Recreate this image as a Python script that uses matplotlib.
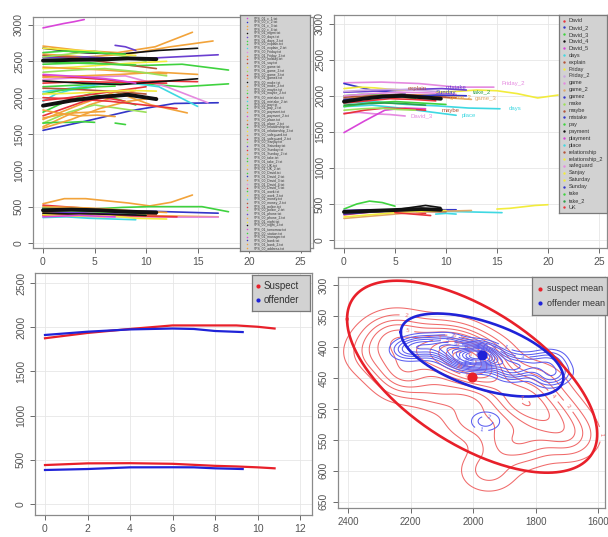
"""Formant tracks of suspect / offender recordings: four panel montage."""
import numpy as np
import matplotlib
matplotlib.use("Agg")
import matplotlib.pyplot as plt

plt.rcParams['font.family'] = ['Liberation Sans', 'DejaVu Sans']

W, H = 608, 537

# ---- colours used by the R-style palette
RED, BLUE, GREEN, BLACK = "#E8333A", "#3335C8", "#3FD23F", "#111111"
ORANGE, YELLOW, CYAN, MAGENTA = "#F2A33A", "#F2EC3C", "#3FD8E2", "#D946D9"
PINK, BROWN, LGREEN, PURPLE = "#E58AE0", "#B4553A", "#9BE05A", "#6A3FD0"
TAN, LAV, DGREEN = "#E0A868", "#C9A5E0", "#2E9E4A"

# ---- panel A: all recordings (start, end, values)
A_UPPER = [
    (0, 4, [2960, 2990, 3020, 3045, 3075]),
    (0, 17, [1550, 1680, 1820, 1920, 1930]),
    (0, 14.5, [2710, 2650, 2620, 2700, 2900]),
    (0, 16.5, [2600, 2560, 2600, 2700, 2780]),
    (0, 15, [2680, 2620, 2600, 2650, 2680]),
    (0, 17, [2550, 2560, 2530, 2560, 2590]),
    (0, 18, [2460, 2480, 2440, 2460, 2380]),
    (0, 18, [2150, 2180, 2200, 2150, 2190]),
    (0, 15, [2080, 2150, 2220, 2150, 1880]),
    (0, 16, [2250, 2280, 2300, 2150, 1930]),
    (0, 14, [1700, 1900, 2080, 1900, 1790]),
    (0, 12, [2300, 2280, 2250, 2200, 2200]),
    (0, 11, [2580, 2560, 2500, 2450, 2400]),
    (0, 12, [2400, 2420, 2450, 2480, 2500]),
    (0, 10, [2560, 2600, 2640, 2580, 2500]),
    (0, 15, [2200, 2220, 2210, 2230, 2220]),
    (0, 15, [2280, 2300, 2320, 2350, 2320]),
    (0, 15, [2230, 2200, 2180, 2220, 2260]),
    (0, 9, [1600, 1750, 1900, 2000, 2100]),
    (0, 10, [1650, 1800, 1900, 1850, 1800]),
    (0, 9, [1800, 1950, 2050, 2000, 1900]),
    (0, 8, [1750, 1850, 1950, 2000, 1950]),
    (0, 5, [1950, 2050, 2100, 2120, 2150]),
    (0, 5, [1650, 1660, 1660, 1670, 1660]),
    (7, 8, [1650, 1640, 1630]),
    (0, 11, [1580, 1700, 1850, 1950, 2000]),
    (0, 9, [2320, 2300, 2280, 2250, 2200]),
    (0, 12, [2420, 2400, 2380, 2350, 2330]),
    (0, 10, [2130, 2120, 2100, 2080, 2050]),
    (0, 7, [2050, 2100, 2130, 2150, 2160]),
    (0, 9, [2680, 2660, 2640, 2600, 2580]),
    (0, 7, [1830, 1780, 1750, 1760, 1740]),
    (0, 10, [1960, 2000, 2050, 2100, 2150]),
    (0, 12, [2350, 2380, 2400, 2360, 2300]),
    (7, 9, [2720, 2700, 2650]),
    (0, 13, [2000, 1980, 1950, 1900, 1850]),
    (0, 6, [1720, 1760, 1790, 1800, 1810]),
    (0, 8, [2620, 2640, 2630, 2610, 2600]),
    (0, 9, [2500, 2480, 2470, 2460, 2450]),
    (0, 11, [2050, 2060, 2080, 2100, 2090]),
]
A_UPPER_COLORS = [
    MAGENTA, BLUE, ORANGE, ORANGE, BLACK, PURPLE, GREEN, GREEN, CYAN, PINK,
    ORANGE, RED, BROWN, YELLOW, LGREEN, RED, ORANGE, BLACK, ORANGE, LGREEN,
    GREEN, RED, CYAN, GREEN, GREEN, ORANGE, MAGENTA, ORANGE, BROWN, GREEN,
    YELLOW, ORANGE, RED, LGREEN, PURPLE, RED, ORANGE, GREEN, GREEN, YELLOW,
]
A_LOWER = [
    (0, 14.5, [540, 610, 610, 580, 550, 510, 560, 660]),
    (0, 18, [470, 480, 470, 490, 500, 500, 500, 430]),
    (0, 17, [480, 470, 460, 450, 440, 430, 420, 410]),
    (0, 17, [400, 390, 380, 370, 360]),
    (0, 17, [370, 360, 360, 355, 355]),
    (0, 13, [380, 400, 380, 370, 360]),
    (0, 10, [480, 470, 450, 420, 380]),
    (0, 12, [420, 400, 380, 340, 330]),
    (0, 9, [350, 360, 340, 330, 320]),
    (0, 11, [430, 420, 410, 400, 390]),
    (0, 8, [520, 500, 480, 450, 420]),
    (0, 10, [460, 450, 430, 410, 400]),
    (0, 9, [400, 420, 410, 400, 390]),
    (0, 12, [500, 490, 470, 440, 420]),
    (0, 6, [390, 380, 370, 370, 360]),
    (0, 10, [410, 400, 400, 390, 380]),
    (0, 7, [360, 370, 380, 370, 360]),
    (0, 11, [440, 445, 430, 420, 410]),
]
A_LOWER_COLORS = [
    ORANGE, GREEN, BLUE, ORANGE, PINK, RED, GREEN, YELLOW, CYAN, BROWN,
    RED, LGREEN, PURPLE, ORANGE, YELLOW, BLACK, MAGENTA, GREEN,
]
A_MEAN = [
    (0, 11, [2510, 2520, 2525, 2540, 2530]),
    (0, 11, [1890, 1960, 2010, 2040, 1980]),
    (0, 11, [450, 460, 450, 430, 420]),
]
A_FILE_WORDS = [
    "c_1", "c_2", "c_3", "c_4", "mgmt", "days", "days_2", "explain", "explain_2",
    "Friday", "Friday_2", "holiday", "say", "game", "game_2", "game_3", "gamez",
    "make", "make_2", "maybe", "maybe_2", "mistake", "mistake_2", "pay", "pay_2",
    "payment", "payment_2", "place", "place_2", "relationship", "relationship_2",
    "safeguard", "safeguard_2", "Sanjay", "Saturday", "Sunday", "Sunday_2",
    "take", "take_2", "UK", "UK_2", "David", "David_2", "David_3", "David_4",
    "David_5", "work", "work_2", "money", "money_2", "police", "police_2",
    "phone", "phone_2", "night", "night_2", "tomorrow", "station", "manager",
    "bank", "bank_2", "address",
]

# ---- panel B: one speaker, labelled words
B_UPPER = [
    (0, 14.7, [2180, 2190, 2170, 2120, 2120]),
    (0, 6, [2170, 2120, 2070, 2050, 2040]),
    (9, 21, [2050, 2060, 2080, 2070, 2030, 1970, 2010]),
    (0, 15.3, [1900, 1920, 1880, 1860, 1830, 1820]),
    (0, 11, [1850, 1870, 1830, 1780, 1730]),
    (0, 12.5, [1960, 1990, 2000, 1980, 1950]),
    (0, 6, [1760, 1770, 1750, 1740, 1720]),
    (0, 8, [1490, 1650, 1800, 1830, 1820]),
    (0, 8, [1750, 1800, 1830, 1820, 1800]),
    (0, 10, [1850, 1900, 1920, 1900, 1880]),
    (0, 7, [2000, 2020, 2010, 1990, 1960]),
    (0, 12, [2050, 2060, 2080, 2090, 2100, 2080]),
    (0, 6, [2100, 2120, 2110, 2090, 2080]),
    (0, 10, [1950, 1980, 2000, 2010, 2000]),
    (0, 11, [1980, 2000, 2020, 2000, 1970]),
    (0, 9, [1900, 1930, 1960, 1950, 1930]),
    (0, 7, [1800, 1820, 1830, 1810, 1800]),
    (0, 11, [2000, 2030, 2050, 2040, 2020]),
    (0, 12, [1950, 1970, 1990, 2010, 2000]),
    (0, 9, [2060, 2080, 2090, 2080, 2060]),
    (0, 8, [1870, 1890, 1900, 1890, 1870]),
]
B_UPPER_COLORS = [
    PINK, BLUE, YELLOW, CYAN, CYAN, TAN, PINK, MAGENTA, RED, GREEN, GREEN,
    PURPLE, YELLOW, ORANGE, BROWN, RED, LGREEN, PINK, BLUE, LAV, DGREEN,
]
B_LOWER = [
    (0, 5, [430, 500, 540, 520, 470]),
    (15, 20, [430, 440, 460, 480, 490]),
    (0, 15.5, [380, 400, 410, 400, 390, 380]),
    (5, 9.5, [420, 450, 480, 450]),
    (0, 8, [350, 380, 400, 390, 370]),
    (0, 11, [360, 390, 410, 420, 420]),
    (0, 12.5, [300, 330, 360, 390, 400, 410]),
    (0, 9, [410, 420, 420, 410, 400]),
    (3, 10, [400, 410, 400, 390]),
    (9, 11, [360, 370, 360]),
    (0, 7, [380, 390, 400, 395, 390]),
    (0, 10, [320, 350, 380, 400, 410]),
    (5, 8.5, [380, 360, 340]),
]
B_LOWER_COLORS = [
    GREEN, YELLOW, CYAN, BLACK, RED, BLUE, TAN, PURPLE, BROWN, CYAN, PINK,
    YELLOW, RED,
]
B_MEAN = [
    (0, 9.5, [1920, 1960, 1990, 2000, 1980, 1960]),
    (0, 9.5, [390, 400, 410, 420, 430, 420]),
]
B_LABELS = [
    ("Friday_2", PINK, 15.5, 2170), ("days", CYAN, 16.2, 1830),
    ("place", CYAN, 11.5, 1720), ("game_3", TAN, 12.8, 1960),
    ("David_3", PINK, 6.5, 1720), ("explain", BROWN, 6.3, 2100),
    ("mistake", PURPLE, 10.0, 2110), ("take_2", DGREEN, 12.6, 2050),
    ("game_2", ORANGE, 10.4, 1980), ("Sunday", BLUE, 9.0, 2040),
    ("maybe", BROWN, 9.6, 1790),
]
B_LEGEND = [
    "David", "David_2", "David_3", "David_4", "David_5", "days", "explain",
    "Friday", "Friday_2", "game", "game_2", "gamez", "make", "maybe",
    "mistake", "pay", "payment", "playment", "place", "relationship",
    "relationship_2", "safeguard", "Sanjay", "Saturday", "Sunday", "take",
    "take_2", "UK",
]
B_LEGEND_COLORS = [
    RED, BLUE, GREEN, BLACK, MAGENTA, CYAN, BROWN, YELLOW, LAV, PINK, TAN,
    BLUE, LGREEN, BROWN, BLUE, GREEN, BLACK, MAGENTA, CYAN, BROWN, YELLOW,
    PINK, YELLOW, YELLOW, BLUE, GREEN, DGREEN, RED,
]

# ---- panel C: mean tracks
C_X_SUSPECT = [0, 2, 4, 6, 8, 9, 10, 10.8]
C_SUSPECT_F2 = [1875, 1935, 1980, 2020, 2020, 2020, 2005, 1985]
C_SUSPECT_F1 = [441, 460, 462, 455, 432, 425, 415, 404]
C_X_OFFENDER = [0, 2, 4, 6, 7, 8, 9.3]
C_OFFENDER_F2 = [1912, 1949, 1975, 1985, 1980, 1957, 1945]
C_OFFENDER_F1 = [385, 396, 415, 416, 415, 404, 396]

# ---- panel D: F2 vs F1 of vowel tokens
D_SUSPECT_F2 = [2320, 2280, 2240, 2200, 2150, 2100, 2050, 2020, 2000, 1980,
                1960, 1950, 1900, 1880, 1850, 1820, 1780, 1750, 1710, 1690,
                1900, 1950, 1830, 2100, 2200, 1800, 2050, 2120, 2260, 2220,
                2000, 2060, 2010]
D_SUSPECT_F1 = [410, 385, 375, 395, 410, 420, 415, 425, 430, 440,
                420, 450, 460, 480, 500, 490, 520, 500, 530, 550,
                550, 600, 560, 470, 440, 460, 395, 385, 430, 455,
                515, 405, 418]
D_OFFENDER_F2 = [2220, 2180, 2150, 2100, 2060, 2040, 2010, 1990, 1975, 1960,
                 1940, 1900, 1850, 1800, 1750, 1730, 1760, 2020, 1980, 1960,
                 2080, 1880]
D_OFFENDER_F1 = [405, 400, 398, 402, 410, 415, 412, 408, 413, 416,
                 420, 425, 430, 428, 420, 440, 450, 420, 420, 520,
                 395, 440]
SUSPECT_MEAN = (2003, 448)
OFFENDER_MEAN = (1971, 413)
# ellipse half-spans (F2, F1) and correlation
SUSPECT_SPREAD = (400, 155, -0.6)
OFFENDER_SPREAD = (260, 67, -0.55)


def rect(left, top, right, bottom):
    return [left / W, 1 - bottom / H, (right - left) / W, (bottom - top) / H]


def style_axes(ax):
    for s in ax.spines.values():
        s.set_color("#8a8a8a")
        s.set_linewidth(0.9)
    ax.tick_params(colors="#6a6a6a", labelcolor="#555555", length=3.5,
                   width=0.7, labelsize=7.5, pad=3)
    ax.tick_params(axis="y", labelrotation=90)
    for lab in ax.get_yticklabels():
        lab.set_va("center")
    ax.grid(True, color="#e6e6e6", linewidth=0.6)
    ax.set_axisbelow(True)


def draw_tracks(ax, tracks, colors, lw=1.2):
    for (x0, x1, ys), c in zip(tracks, colors):
        ax.plot(np.linspace(x0, x1, len(ys)), ys, color=c, lw=lw,
                solid_capstyle="round")


def legend_box(fig, box, labels, colors, size, dot):
    lax = fig.add_axes(rect(*box))
    lax.set_facecolor("#d2d2d2")
    lax.set_xlim(0, 1)
    lax.set_ylim(len(labels) + 0.3, -0.3)
    lax.set_xticks([])
    lax.set_yticks([])
    for s in lax.spines.values():
        s.set_color("#7a7a7a")
        s.set_linewidth(0.9)
    for i, (lab, c) in enumerate(zip(labels, colors)):
        lax.scatter(0.1, i + 0.5, s=dot, color=c, lw=0)
        lax.text(0.2, i + 0.5, lab, fontsize=size, va="center", ha="left",
                 color="#333333")
    return lax


def kde(xs, ys, gx, gy, hx, hy):
    dens = np.zeros_like(gx)
    for x, y in zip(xs, ys):
        dens += np.exp(-0.5 * (((gx - x) / hx) ** 2 + ((gy - y) / hy) ** 2))
    return dens


def ellipse(center, spread):
    t = np.linspace(0, 2 * np.pi, 300)
    rx, ry, rho = spread
    x = center[0] + rx * np.cos(t)
    y = center[1] + ry * (rho * np.cos(t) + np.sqrt(1 - rho ** 2) * np.sin(t))
    return x, y


fig = plt.figure(figsize=(W / 100, H / 100), dpi=100)
fig.patch.set_facecolor("white")

# panel A
ax = fig.add_axes(rect(33, 17, 313, 248))
draw_tracks(ax, A_UPPER, A_UPPER_COLORS)
draw_tracks(ax, A_LOWER, A_LOWER_COLORS)
draw_tracks(ax, A_MEAN, [BLACK] * len(A_MEAN), lw=2.8)
ax.set_xlim(-0.97, 26.2)
ax.set_ylim(-69, 3110)
ax.set_xticks([0, 5, 10, 15, 20, 25])
ax.set_yticks(range(0, 3001, 500))
style_axes(ax)
a_labels = [f"VPS_{'00' if i % 2 else '01'}_{w}.txt" for i, w in enumerate(A_FILE_WORDS)]
a_colors = [(A_UPPER_COLORS + A_LOWER_COLORS)[i % 58] for i in range(len(a_labels))]
legend_box(fig, (240, 15, 310, 251), a_labels, a_colors, 2.4, 1.2)

# panel B
ax = fig.add_axes(rect(334, 15, 607, 248))
draw_tracks(ax, B_UPPER, B_UPPER_COLORS)
draw_tracks(ax, B_LOWER, B_LOWER_COLORS)
draw_tracks(ax, B_MEAN, [BLACK] * len(B_MEAN), lw=2.8)
for text, c, x, y in B_LABELS:
    ax.text(x, y, text, color=c, fontsize=4.3, ha="left", va="center")
ax.set_xlim(-0.98, 25.8)
ax.set_ylim(-110, 3120)
ax.set_xticks([0, 5, 10, 15, 20, 25])
ax.set_yticks(range(0, 3001, 500))
style_axes(ax)
legend_box(fig, (559, 15, 607, 213), B_LEGEND, B_LEGEND_COLORS, 4.0, 3)

# panel C
ax = fig.add_axes(rect(35, 273, 312, 515))
ax.plot(C_X_SUSPECT, C_SUSPECT_F2, color="#e8202a", lw=1.6)
ax.plot(C_X_SUSPECT, C_SUSPECT_F1, color="#e8202a", lw=1.6)
ax.plot(C_X_OFFENDER, C_OFFENDER_F2, color="#1f23d8", lw=1.6)
ax.plot(C_X_OFFENDER, C_OFFENDER_F1, color="#1f23d8", lw=1.6)
ax.set_xlim(-0.47, 12.56)
ax.set_ylim(-124, 2613)
ax.set_xticks(range(0, 13, 2))
ax.set_yticks(range(0, 2501, 500))
style_axes(ax)
legend_box(fig, (252, 275, 310, 311), ["Suspect", "offender"],
           ["#e8202a", "#1f23d8"], 7, 9)

# panel D
ax = fig.add_axes(rect(338, 277, 605, 508))
gx, gy = np.meshgrid(np.linspace(1560, 2460, 260), np.linspace(270, 690, 260))
dens_s = kde(D_SUSPECT_F2, D_SUSPECT_F1, gx, gy, 58, 22)
dens_o = kde(D_OFFENDER_F2, D_OFFENDER_F1, gx, gy, 36, 12)
lv_s = dens_s.max() * np.array([0.05, 0.12, 0.2, 0.28, 0.37, 0.46, 0.55,
                                0.65, 0.75, 0.85, 0.93])
lv_o = dens_o.max() * np.array([0.08, 0.14, 0.2, 0.26, 0.33, 0.4, 0.47, 0.54,
                                0.61, 0.68, 0.75, 0.82, 0.89, 0.95])
cs = ax.contour(gx, gy, dens_s, levels=lv_s, colors="#f06a6a", linewidths=0.75)
ax.clabel(cs, fmt={lv: str(i + 1) for i, lv in enumerate(cs.levels)},
          fontsize=4, inline=True)
co = ax.contour(gx, gy, dens_o, levels=lv_o, colors="#5b5ef0", linewidths=0.75)
ax.clabel(co, fmt={lv: str(i + 1) for i, lv in enumerate(co.levels)},
          fontsize=4, inline=True)
ex, ey = ellipse(SUSPECT_MEAN, SUSPECT_SPREAD)
ax.plot(ex, ey, color="#e8202a", lw=1.9)
ex, ey = ellipse(OFFENDER_MEAN, OFFENDER_SPREAD)
ax.plot(ex, ey, color="#1f23d8", lw=1.9)
ax.scatter(*SUSPECT_MEAN, s=40, color="#e8202a", zorder=5)
ax.scatter(*OFFENDER_MEAN, s=40, color="#1f23d8", zorder=5)
ax.set_xlim(2432, 1578)
ax.set_ylim(660, 287)
ax.set_xticks([2400, 2200, 2000, 1800, 1600])
ax.set_yticks(range(300, 651, 50))
style_axes(ax)
ax.tick_params(axis="x", labelsize=7)
legend_box(fig, (532, 277, 607, 315), ["suspect mean", "offender mean"],
           ["#e8202a", "#1f23d8"], 6.5, 9)

fig.savefig("out.png", dpi=100)
